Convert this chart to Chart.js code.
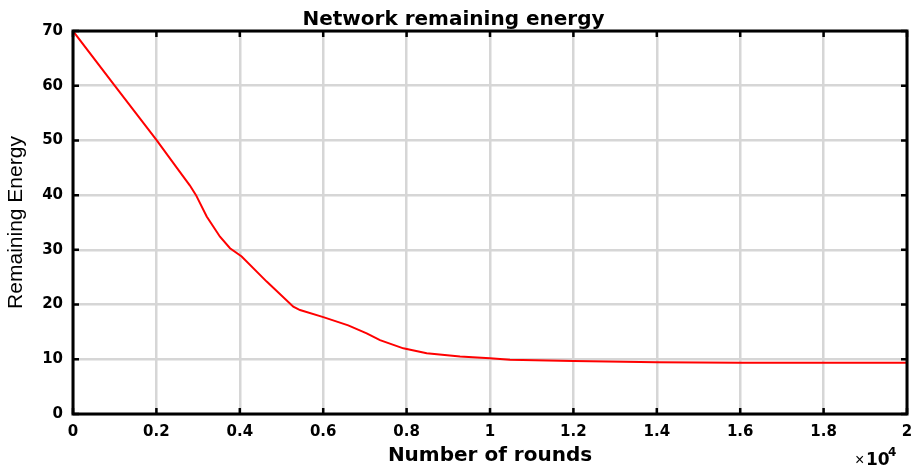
<!DOCTYPE html>
<html><head><meta charset="utf-8">
<script src="https://cdn.jsdelivr.net/npm/chart.js@4/dist/chart.umd.min.js"></script>
<style>html,body{margin:0;padding:0;background:#fff}#wrap{width:918px;height:468px}</style>
</head><body><div id="wrap"><canvas id="c" width="918" height="468"></canvas></div>
<script>
const rounds = [0,1000,2000,2500,2800,2950,3206,3525,3765,4045,4645,5283,5444,6003,6600,7043,7362,7921,8482,9281,10000,10480,12000,14000,16000,18000,20000];
const energy = [70,60,50.1,44.9,41.8,40.0,36.1,32.4,30.3,28.8,24.2,19.6,19.0,17.7,16.2,14.75,13.5,12.0,11.1,10.5,10.2,9.9,9.7,9.45,9.38,9.35,9.35];
const xTicks = [0,2000,4000,6000,8000,10000,12000,14000,16000,18000,20000];
const yTicks = [0,10,20,30,40,50,60,70];
const titleText = 'Network remaining energy';
const xTitle = 'Number of rounds';
const yTitle = 'Remaining Energy';

const BOLD = '"DejaVu Sans",Arial,sans-serif';
const REG = '"Liberation Sans",Arial,sans-serif';

const boxPlugin = {
  id:'box',
  afterDraw(chart){
    const {ctx, chartArea:a, scales:{x,y}} = chart;
    ctx.save();
    ctx.strokeStyle='#000';
    ctx.lineWidth=3;
    ctx.strokeRect(a.left, a.top, a.right-a.left, a.bottom-a.top);
    ctx.lineWidth=2.5;
    ctx.beginPath();
    xTicks.forEach(v=>{const px=x.getPixelForValue(v);
      ctx.moveTo(px,a.bottom);ctx.lineTo(px,a.bottom-6);
      ctx.moveTo(px,a.top);ctx.lineTo(px,a.top+6);});
    yTicks.forEach(v=>{const py=y.getPixelForValue(v);
      ctx.moveTo(a.left,py);ctx.lineTo(a.left+6,py);
      ctx.moveTo(a.right,py);ctx.lineTo(a.right-6,py);});
    ctx.stroke();
    ctx.fillStyle='#000';
    ctx.textAlign='left';ctx.textBaseline='alphabetic';
    ctx.font='16px '+REG;
    ctx.fillText('\u00d7',855,465);
    ctx.font='bold 17px '+BOLD;
    ctx.fillText('10',866,465);
    ctx.font='bold 12px '+BOLD;
    ctx.fillText('4',888,456);
    ctx.restore();
  }
};

new Chart(document.getElementById('c'),{
  type:'line',
  data:{datasets:[{data:rounds.map((r,i)=>({x:r,y:energy[i]})),borderColor:'#ff0000',borderWidth:2,pointRadius:0,tension:0,fill:false}]},
  options:{
    responsive:false,animation:false,
    layout:{padding:{left:0,right:11,top:8,bottom:0}},
    plugins:{legend:{display:false},tooltip:{enabled:false},
      title:{display:true,text:titleText,color:'#000',font:{family:BOLD,size:20,weight:'bold',lineHeight:1.15},padding:{top:0,bottom:0}}},
    scales:{
      x:{type:'linear',min:0,max:20000,
        afterBuildTicks(s){s.ticks=xTicks.map(v=>({value:v}));},
        afterFit(s){s.height=54;s.paddingLeft=0;s.paddingRight=0;},
        ticks:{color:'#000',font:{family:BOLD,size:15,weight:'bold'},padding:9,maxRotation:0,callback:v=>String(v/10000)},
        grid:{color:'#d6d6d6',lineWidth:2.5,drawTicks:false},
        border:{display:false},
        title:{display:true,text:xTitle,color:'#000',font:{family:BOLD,size:20,weight:'bold'},padding:{top:0,bottom:0}}},
      y:{min:0,max:70,
        afterBuildTicks(s){s.ticks=yTicks.map(v=>({value:v}));},
        afterFit(s){s.width=73;s.paddingTop=0;s.paddingBottom=0;},
        ticks:{color:'#000',font:{family:BOLD,size:15,weight:'bold'},padding:10},
        grid:{color:'#d6d6d6',lineWidth:2.5,drawTicks:false},
        border:{display:false},
        title:{display:true,text:yTitle,color:'#000',font:{family:REG,size:21},padding:{top:4,bottom:2}}}
    }
  },
  plugins:[boxPlugin]
});
</script></body></html>
